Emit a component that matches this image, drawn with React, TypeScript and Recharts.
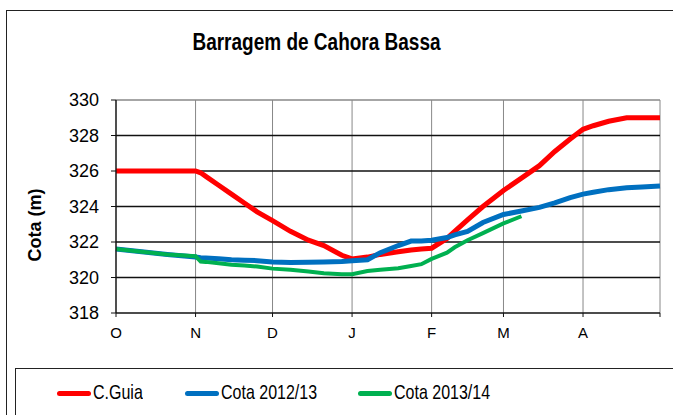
import { LineChart, Line, XAxis, YAxis, CartesianGrid, ReferenceLine } from "recharts";

// dias desde 1 de Outubro
const days = [0, 10, 20, 31, 33, 35, 40, 45, 50, 55, 61, 68, 75, 81, 88, 92, 98, 103, 110, 115, 119, 123, 129, 132, 137, 143, 151, 158, 165, 171, 177, 182, 186, 192, 199, 205, 212];

const cGuia = [326, 326, 326, 326, 325.9, 325.7, 325.2, 324.7, 324.2, 323.7, 323.2, 322.6, 322.1, 321.8, 321.25, 321.05, 321.15, 321.3, 321.45, 321.55, 321.6, 321.65, 322.2, 322.6, 323.25, 324.0, 324.9, 325.6, 326.3, 327.1, 327.8, 328.35, 328.55, 328.8, 329.0, 329.0, 329.0];
const cota1213 = [321.6, 321.45, 321.3, 321.15, 321.12, 321.1, 321.05, 321.0, 320.97, 320.95, 320.88, 320.84, 320.86, 320.88, 320.9, 320.95, 321.0, 321.4, 321.8, 322.05, 322.05, 322.1, 322.25, 322.4, 322.6, 323.1, 323.55, 323.75, 323.95, 324.2, 324.5, 324.7, 324.8, 324.95, 325.05, 325.1, 325.15];
const cota1314 = [321.6, 321.45, 321.3, 321.2, 320.9, 320.88, 320.8, 320.72, 320.68, 320.62, 320.5, 320.43, 320.34, 320.24, 320.19, 320.19, 320.37, 320.43, 320.52, 320.65, 320.75, 321.05, 321.4, 321.7, 322.1, 322.5, 323.05, 323.45, null, null, null, null, null, null, null, null, null];

const monthTicks = [0, 31, 61, 92, 123, 151, 182, 212];
const monthLabels = ["O", "N", "D", "J", "F", "M", "A", ""];
const yTicks = [318, 320, 322, 324, 326, 328, 330];

const series = [
  { key: "guia", name: "C.Guia", color: "#FF0000" },
  { key: "c1213", name: "Cota 2012/13", color: "#0070C0" },
  { key: "c1314", name: "Cota 2013/14", color: "#00B050" },
];

const data = days.map((d, i) => ({
  day: d,
  guia: cGuia[i],
  c1213: cota1213[i],
  c1314: cota1314[i],
}));

const FONT = "'Liberation Sans', Arial, sans-serif";

export default function App() {
  return (
    <div style={{ position: "absolute", left: 0, top: 0, width: 673, height: 415, overflow: "hidden", background: "#fff", fontFamily: FONT }}>
      {/* moldura do gráfico */}
      <div style={{ position: "absolute", left: 6, top: 10, width: 720, height: 500, border: "1.5px solid #222" }} />
      <div style={{ position: "absolute", left: 0, width: 633, top: 31, textAlign: "center", fontSize: 19, lineHeight: "22px", fontWeight: "bold", transform: "scaleY(1.3)" }}>
        Barragem de Cahora Bassa
      </div>
      <svg style={{ position: "absolute", left: 0, top: 0 }} width={60} height={415}>
        <text x={0} y={0} transform="translate(41,225) rotate(-90)" textAnchor="middle" fontSize={18} fontWeight="bold" fontFamily={FONT}>
          Cota (m)
        </text>
      </svg>
      <div style={{ position: "absolute", left: 0, top: 0 }}>
        <LineChart width={673} height={415} data={data} margin={{ top: 100, right: 13, left: 56, bottom: 72 }}>
          <CartesianGrid horizontal={false} stroke="#888" strokeWidth={1} />
          <CartesianGrid vertical={false} horizontalValues={[320, 322, 324, 326, 328]} stroke="#111" strokeWidth={1.3} />
          <ReferenceLine y={330} stroke="#888" strokeWidth={1.3} />
          <XAxis
            dataKey="day"
            type="number"
            domain={[0, 212]}
            ticks={monthTicks}
            tickFormatter={(v: number) => monthLabels[monthTicks.indexOf(v)]}
            axisLine={{ stroke: "#111", strokeWidth: 1.3 }}
            tickLine={{ stroke: "#111" }}
            tickSize={4}
            tickMargin={10}
            height={30}
            tick={{ fill: "#000", fontSize: 15, fontFamily: FONT }}
            interval={0}
          />
          <YAxis
            type="number"
            domain={[318, 330]}
            ticks={yTicks}
            axisLine={{ stroke: "#111", strokeWidth: 1.3 }}
            tickLine={{ stroke: "#111" }}
            tickSize={5}
            tickMargin={12}
            width={60}
            tick={{ fill: "#000", fontSize: 18, fontFamily: FONT }}
            interval={0}
          />
          {series.map((s) => (
            <Line
              key={s.key}
              type="linear"
              dataKey={s.key}
              name={s.name}
              stroke={s.color}
              strokeWidth={s.key === "c1314" ? 4 : 5}
              dot={false}
              isAnimationActive={false}
            />
          ))}
        </LineChart>
      </div>
      {/* legenda */}
      <div style={{ position: "absolute", left: 15, top: 368, width: 700, height: 100, border: "1.5px solid #222" }} />
      {series.map((s, i) => {
        const lx = [57, 185, 358][i];
        return (
          <div key={s.key} style={{ position: "absolute", left: lx, top: 383, height: 20, display: "flex", alignItems: "center", fontSize: 16 }}>
            <span style={{ display: "inline-block", width: 34, height: 5, borderRadius: 3, background: s.color }} />
            <span style={{ marginLeft: 2, display: "inline-block", transform: "scaleY(1.3)" }}>{s.name}</span>
          </div>
        );
      })}
    </div>
  );
}
